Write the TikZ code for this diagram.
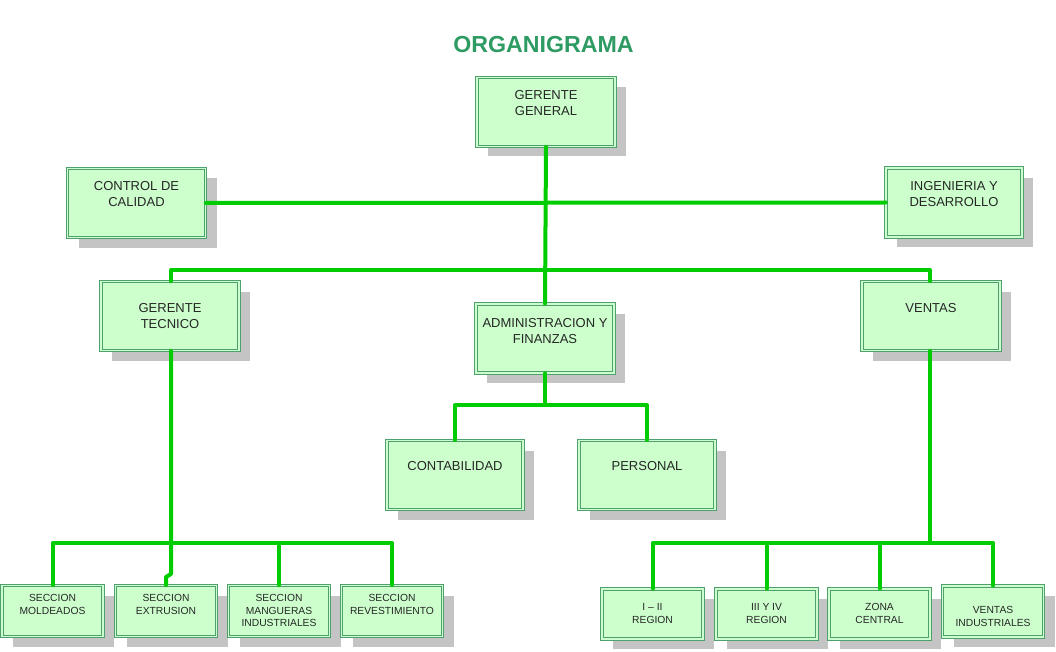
\documentclass[tikz,border=0pt]{standalone}
\usepackage{fontspec}
\setmainfont{Liberation Sans}
\usetikzlibrary{shadows}
\definecolor{titlegreen}{HTML}{2E9B63}
\definecolor{boxfill}{HTML}{CCFFCC}
\definecolor{boxedge}{HTML}{4F9F70}
\definecolor{wire}{HTML}{00CC00}
\definecolor{shade}{HTML}{C4C4C4}
\tikzset{
  orgbox/.style={draw=boxedge, line width=0.8pt, double=boxfill, double distance=1.8pt,
    fill=boxfill, inner sep=0pt,
    drop shadow={shadow xshift=11pt, shadow yshift=-10pt, fill=shade, opacity=1}},
  bigbox/.style={orgbox, minimum width=138pt, minimum height=69pt},
  smallbox/.style={orgbox, minimum width=101pt, minimum height=51pt},
  bigtxt/.style={anchor=north, inner sep=0pt, align=center, font=\fontsize{13}{16}\selectfont, text=black!85},
  smalltxt/.style={anchor=north, inner sep=0pt, align=center, font=\fontsize{10.3}{12.6}\selectfont, text=black!85},
  wireline/.style={draw=wire, line width=4pt, line cap=round, line join=round}
}
\begin{document}
\begin{tikzpicture}[x=1pt,y=-1pt]
\useasboundingbox (0,0) rectangle (1056,652);
\node[font=\bfseries\fontsize{23.2}{27}\selectfont, text=titlegreen] (title) at (543.5,45) {ORGANIGRAMA};

% boxes
\node[bigbox] (gg) at (546,112) {};
\node[bigbox] (cc) at (136.5,203) {};
\node[bigbox, minimum width=136pt] (ie) at (954,202.5) {};
\node[bigbox] (gt) at (170,316) {};
\node[bigbox] (adm) at (545,338.5) {};
\node[bigbox] (vt) at (931,316) {};
\node[bigbox, minimum width=136pt] (con) at (455,475) {};
\node[bigbox, minimum width=136pt] (per) at (647,475) {};
\node[smallbox] (mol) at (52.5,611) {};
\node[smallbox] (ext) at (166,611) {};
\node[smallbox] (man) at (279,611) {};
\node[smallbox] (rev) at (392,611) {};
\node[smallbox, minimum height=50pt] (r1) at (652.5,614) {};
\node[smallbox, minimum height=50pt] (r2) at (766.5,614) {};
\node[smallbox, minimum height=50pt] (zc) at (879.5,614) {};
\node[smallbox] (vi) at (993,611.5) {};

% texts
\node[bigtxt] (gg-t) at (546,90.5) {GERENTE\\GENERAL};
\node[bigtxt] (cc-t) at (136.5,181.5) {CONTROL DE\\CALIDAD};
\node[bigtxt] (ie-t) at (954,181.5) {INGENIERIA Y\\DESARROLLO};
\node[bigtxt] (gt-t) at (170,303.5) {GERENTE\\TECNICO};
\node[bigtxt] (adm-t) at (545,318.5) {ADMINISTRACION Y\\FINANZAS};
\node[bigtxt] (vt-t) at (931,303.5) {VENTAS};
\node[bigtxt] (con-t) at (455,461.5) {CONTABILIDAD};
\node[bigtxt] (per-t) at (647,461.5) {PERSONAL};
\node[smalltxt] (mol-t) at (52.5,594.3) {SECCION\\MOLDEADOS};
\node[smalltxt] (ext-t) at (166,594.3) {SECCION\\EXTRUSION};
\node[smalltxt] (man-t) at (279,594.3) {SECCION\\MANGUERAS\\INDUSTRIALES};
\node[smalltxt] (rev-t) at (392,594.3) {SECCION\\REVESTIMIENTO};
\node[smalltxt] (r1-t) at (652.5,603.3) {I -- II\\REGION};
\node[smalltxt] (r2-t) at (766.5,603.3) {III Y IV\\REGION};
\node[smalltxt] (zc-t) at (879.5,603.3) {ZONA\\CENTRAL};
\node[smalltxt] (vi-t) at (993,606.3) {VENTAS\\INDUSTRIALES};

% junction points
\coordinate (bus1) at (545,270);
\coordinate (bus2) at (545,405);
\coordinate (bus3) at (171,543);
\coordinate (bus4) at (930,543);
\coordinate (jogA) at (171,574);
\coordinate (jogB) at (166,577);

% connectors
\draw[wireline] (gg.south) -- (adm.north);
\draw[wireline] (cc.east) -- (ie.west);
\draw[wireline] (gt.north -| bus3) |- (bus1) -| (vt.north -| bus4);
\draw[wireline] (adm.south) -- (bus2);
\draw[wireline] (con.north) |- (bus2) -| (per.north);
\draw[wireline] (gt.south -| bus3) -- (jogA) -- (jogB) -- (ext.north);
\draw[wireline] (mol.north) |- (bus3) -| (rev.north);
\draw[wireline] (man.north) -- (man.north |- bus3);
\draw[wireline] (vt.south -| bus4) -- (bus4);
\draw[wireline] (r1.north) |- (bus4) -| (vi.north);
\draw[wireline] (r2.north) -- (r2.north |- bus4);
\draw[wireline] (zc.north) -- (zc.north |- bus4);
\end{tikzpicture}
\end{document}
